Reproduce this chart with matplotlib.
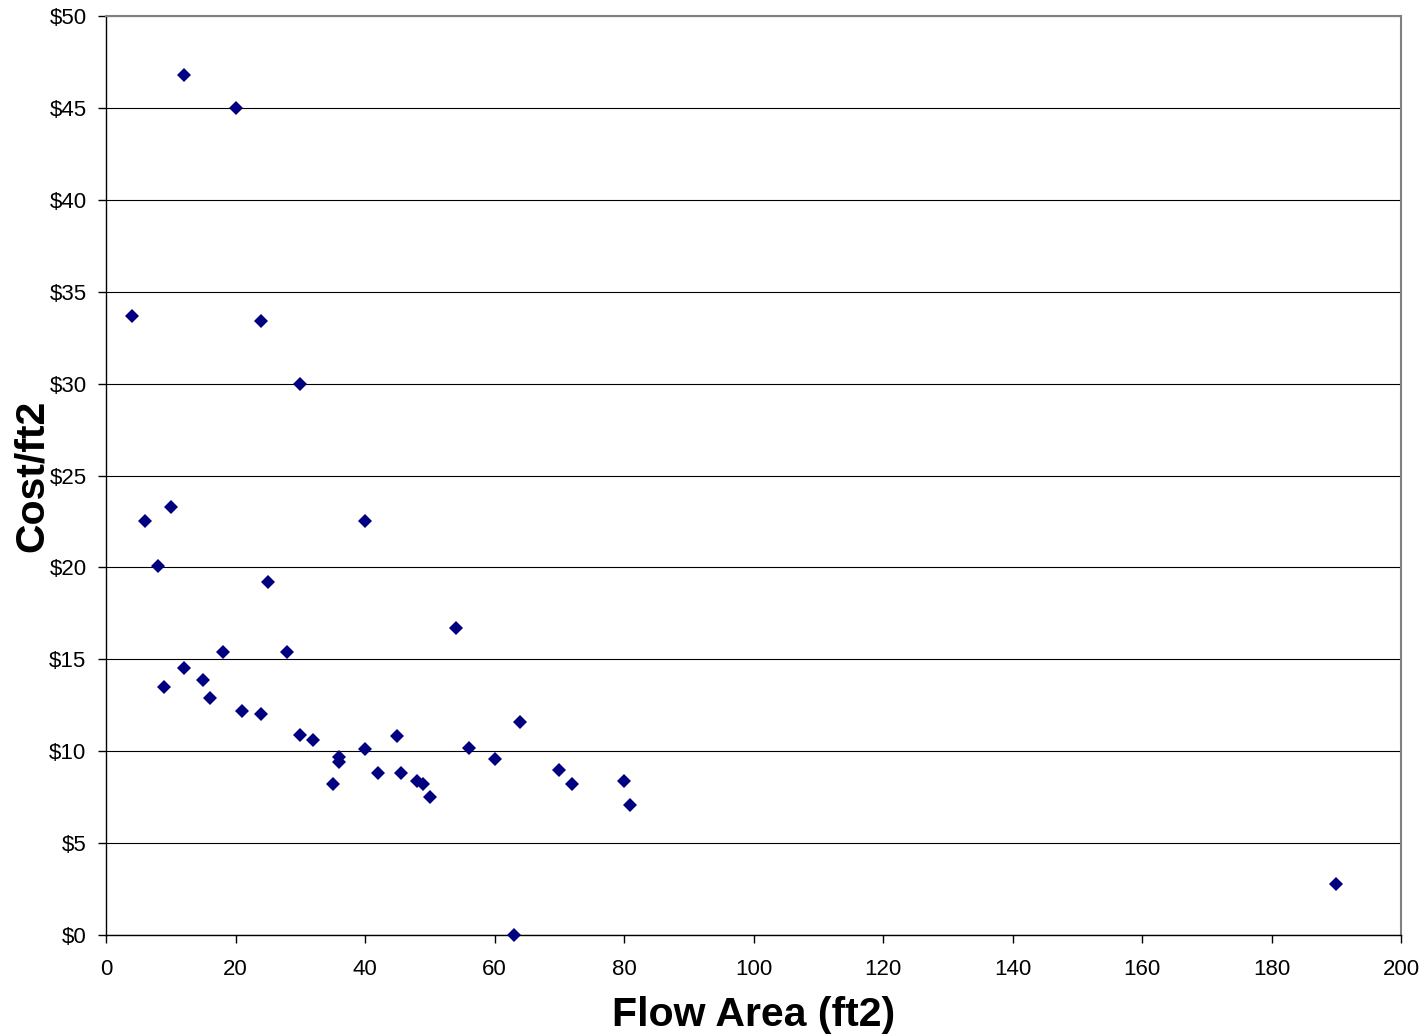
import matplotlib
matplotlib.use("Agg")
import matplotlib.pyplot as plt
from matplotlib.ticker import FuncFormatter

flow_area = [4, 6, 8, 10, 9, 12, 12, 15, 16, 18, 20, 21, 24, 24, 25, 28, 30, 30,
             32, 35, 36, 36, 40, 40, 42, 45, 45.5, 48, 49, 50, 54, 56, 60, 63,
             64, 70, 72, 80, 81, 190]
cost_per_ft2 = [33.7, 22.5, 20.1, 23.3, 13.5, 46.8, 14.5, 13.9, 12.9, 15.4, 45.0,
                12.2, 33.4, 12.0, 19.2, 15.4, 30.0, 10.9, 10.6, 8.2, 9.7, 9.4,
                22.5, 10.1, 8.8, 10.8, 8.8, 8.4, 8.2, 7.5, 16.7, 10.2, 9.6, 0.0,
                11.6, 9.0, 8.2, 8.4, 7.1, 2.8]

x_ticks = [0, 20, 40, 60, 80, 100, 120, 140, 160, 180, 200]
y_ticks = [0, 5, 10, 15, 20, 25, 30, 35, 40, 45, 50]

plt.rcParams['font.family'] = ['Liberation Sans', 'DejaVu Sans']

fig = plt.figure(figsize=(14.26, 10.36), dpi=100)
ax = fig.add_axes([106/1426, 1 - 935/1036, 1295/1426, 919/1036])

ax.plot(flow_area, cost_per_ft2, linestyle='none', marker='D', markersize=7.0,
        color='#000080', markeredgewidth=0, clip_on=False, zorder=3)

ax.set_xlim(0, 200)
ax.set_ylim(0, 50)
ax.set_xticks(x_ticks)
ax.set_yticks(y_ticks)
ax.yaxis.set_major_formatter(FuncFormatter(lambda v, p: f"${int(v)}"))

ax.grid(axis='y', color='#000000', linewidth=0.8, zorder=1)
ax.set_axisbelow(True)

for s in ['top', 'right']:
    ax.spines[s].set_color('#808080')
    ax.spines[s].set_linewidth(1.5)
for s in ['left', 'bottom']:
    ax.spines[s].set_color('#000000')
    ax.spines[s].set_linewidth(1.0)

ax.tick_params(axis='both', direction='out', length=6, width=1, labelsize=16, color='#000000')
ax.tick_params(axis='x', pad=11)
ax.tick_params(axis='y', pad=8)

ax.set_xlabel('Flow Area (ft2)', fontsize=29.5, fontweight='bold', va='center')
ax.xaxis.set_label_coords(0.5, -0.087)
ax.set_ylabel('Cost/ft2', fontsize=29.5, fontweight='bold', va='center')
ax.yaxis.set_label_coords(-0.057, 0.5)

fig.savefig('out.png', dpi=100)
